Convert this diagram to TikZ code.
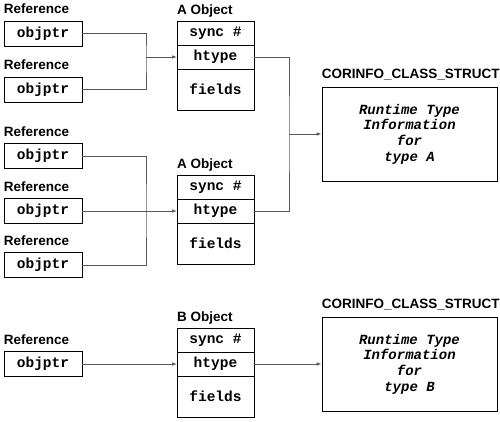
\documentclass[tikz,border=0pt]{standalone}
\usepackage{fontspec}
\setmainfont{Liberation Sans}
\newfontfamily\codefont{Liberation Mono}
\usetikzlibrary{arrows.meta, positioning}
\begin{document}
\begin{tikzpicture}[x=1pt,y=-1pt,
	refbox/.style={draw,line width=.8pt,minimum width=78pt,minimum height=25pt,inner sep=0pt,
		font=\codefont\bfseries\fontsize{14.5}{16}\selectfont},
	cell/.style={draw,line width=.8pt,minimum width=77pt,minimum height=24pt,inner sep=0pt,outer sep=0pt,
		font=\codefont\bfseries\fontsize{14.5}{16}\selectfont},
	infobox/.style={draw,line width=.8pt,minimum width=175pt,minimum height=94pt,align=center,
		font=\codefont\bfseries\itshape\fontsize{14}{15.7}\selectfont},
	tag/.style={inner sep=0pt,anchor=base west,font=\bfseries\fontsize{13.5}{15}\selectfont},
	link/.style={draw=black!65,line width=.8pt},
	arr/.style={link,-{Latex[length=5pt,width=3.5pt]}}]
	\useasboundingbox (0,0) rectangle (500,421);
	% references
	\node[refbox] (r1) at (43,33.5) {objptr};
	\node[refbox] (r2) at (43,89.5) {objptr};
	\node[refbox] (r3) at (43,156) {objptr};
	\node[refbox] (r4) at (43,211) {objptr};
	\node[refbox] (r5) at (43,265) {objptr};
	\node[refbox] (r6) at (43,364) {objptr};
	\foreach \r in {r1,r2,r3,r4,r5,r6}
		\node[tag] (\r t) at ([yshift=7pt]\r.north west) {Reference};
	% objects
	\node[cell] (sA) at (215.5,33) {sync \#};
	\node[cell,below=0pt of sA] (hA) {htype};
	\node[cell,below=0pt of hA,minimum height=41pt] (fA) {fields};
	\node[tag] (oA) at ([yshift=7pt]sA.north west) {A Object};
	\node[cell] (sA2) at (215.5,187) {sync \#};
	\node[cell,below=0pt of sA2] (hA2) {htype};
	\node[cell,below=0pt of hA2,minimum height=41pt] (fA2) {fields};
	\node[tag] (oA2) at ([yshift=7pt]sA2.north west) {A Object};
	\node[cell] (sB) at (215.5,340) {sync \#};
	\node[cell,below=0pt of sB] (hB) {htype};
	\node[cell,below=0pt of hB,minimum height=41pt] (fB) {fields};
	\node[tag] (oB) at ([yshift=7pt]sB.north west) {B Object};
	% type info
	\node[infobox] (iA) at (409.5,134) {Runtime Type\\Information\\for\\type A};
	\node[tag] (tA) at ([yshift=8pt]iA.north west) {CORINFO\_CLASS\_STRUCT};
	\node[infobox] (iB) at (409.5,364) {Runtime Type\\Information\\for\\type B};
	\node[tag] (tB) at ([yshift=8pt]iB.north west) {CORINFO\_CLASS\_STRUCT};
	% connectors
	\coordinate (j1) at (146,57);
	\coordinate (j2) at (146,211);
	\coordinate (j3) at (289,134);
	\draw[link] (r1.east) -| (j1) |- (r2.east);
	\draw[arr] (j1) -- (hA.west);
	\draw[link] (r3.east) -| (j2) |- (r5.east);
	\draw[arr] (r4.east) -- (hA2.west);
	\draw[link] (hA.east) -| (j3) |- (hA2.east);
	\draw[arr] (j3) -- (iA.west);
	\draw[arr] (r6.east) -- (hB.west);
	\draw[arr] (hB.east) -- (iB.west);
\end{tikzpicture}
\end{document}
